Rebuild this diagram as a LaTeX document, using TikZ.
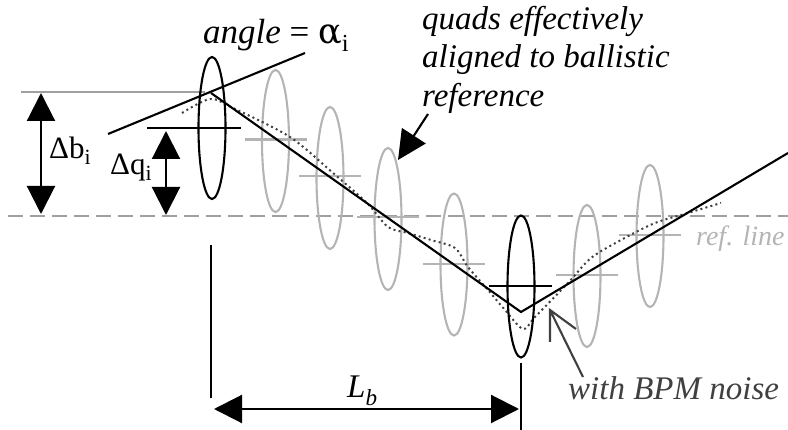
\documentclass[tikz,border=0pt]{standalone}
\usepackage{fontspec}
\setmainfont{Liberation Serif}
\usetikzlibrary{arrows.meta}
\definecolor{lens}{HTML}{B4B4B4}
\definecolor{refl}{HTML}{A0A0A0}
\definecolor{noise}{HTML}{404040}
\tikzset{
 x=1pt,y=-1pt,
 blk/.style={draw=black,line width=2.1pt},
 glens/.style={draw=lens,line width=2.1pt},
 big/.style={{Triangle[length=28pt,width=28pt]}-{Triangle[length=28pt,width=28pt]},draw=black,line width=2.1pt},
 lbl/.style={inner sep=0pt,anchor=base west,font=\fontsize{33}{36}\selectfont},
}
\begin{document}
\begin{tikzpicture}[line cap=butt]
\useasboundingbox (0,0) rectangle (788,430);
% reference
\draw[draw=refl,line width=2.1pt,dash pattern=on 15pt off 7pt] (8,216) coordinate (r1) -- (788,216) coordinate (r2);
\draw[draw=refl,line width=2.1pt] (21,92) coordinate (t1) -- (205,92) coordinate (t2);
% gray lenses
\foreach \cx/\cy/\by in {275.5/141/139.5,330/178/176,388/219/217,454/264.5/264,587/276/275,650/236/235}{
 \draw[glens] (\cx,\cy) ellipse [x radius=13.5pt,y radius=71pt];
 \draw[glens] (\cx-31,\by) -- (\cx+31,\by);
}
% dotted trajectory
\draw[draw=noise,line width=2pt,dash pattern=on 2pt off 3.2pt]
 plot[smooth,tension=0.5] coordinates {(182,113) (210,99) (233,108) (290,137) (333,173) (367,203) (388,227) (408,233) (431,240) (455,248) (468,267) (488,290) (505,310) (523,329) (535,317) (568,283) (591,258) (621,240) (655,223) (688,213) (721,203)};
% black lenses
\draw[blk] (212,128) ellipse [x radius=13.5pt,y radius=71pt];
\draw[blk] (147,128) -- (241,128);
\draw[blk] (521,286.5) ellipse [x radius=13.5pt,y radius=71pt];
\draw[blk] (489,286) -- (552,286);
% trajectory
\coordinate (k1) at (211,93); \coordinate (k2) at (521,312); \coordinate (k3) at (788,153);
\draw[blk] (k1) -- (k2) -- (k3);
\draw[blk] (108,134) coordinate (a1) -- (305,53) coordinate (a2);
% dimension arrows
\draw[big] (41,93) coordinate (b1) -- (41,214) coordinate (b2);
\draw[big] (166,131) coordinate (q1) -- (166,215) coordinate (q2);
\draw[blk] (211,245) coordinate (v1) -- (211,398) coordinate (v2);
\draw[blk] (521,363) coordinate (v3) -- (521,430) coordinate (v4);
\draw[big] (214,409) coordinate (l1) -- (519,409) coordinate (l2);
% quads arrow
\draw[-{Triangle[length=29pt,width=28pt]},draw=black,line width=2.1pt] (428,114) coordinate (p1) -- (398,160) coordinate (p2);
% BPM arrow
\coordinate (n0) at (550,310); \coordinate (n1) at (583,377); \coordinate (n2) at (550,342); \coordinate (n3) at (576,329);
\draw[draw=noise,line width=2.1pt] (n1) -- (n0) (n2) -- (n0) -- (n3);
% labels
\node[lbl,font=\fontsize{35}{38}\selectfont] (tangle) at (203,44) {\textit{angle} = \fontspec{DejaVu Serif}α\fontspec{Liberation Serif}\textsubscript{i}};
\node[lbl,font=\fontsize{31}{34}\selectfont] (tdb) at (49,159) {Δb\textsubscript{i}};
\node[lbl,font=\fontsize{31}{34}\selectfont] (tdq) at (110,175) {Δq\textsubscript{i}};
\node[lbl] (tq1) at (422,30) {\textit{quads effectively}};
\node[lbl] (tq2) at (422,68) {\textit{aligned to ballistic}};
\node[lbl] (tq3) at (422,107) {\textit{reference}};
\node[lbl,text=lens,font=\fontsize{28}{30}\selectfont] (tr) at (696,246) {\textit{ref. line}};
\node[lbl,text=noise] (tb) at (568,400) {\textit{with BPM noise}};
\node[lbl] (tl) at (347,398) {\textit{L\textsubscript{b}}};
\end{tikzpicture}
\end{document}
